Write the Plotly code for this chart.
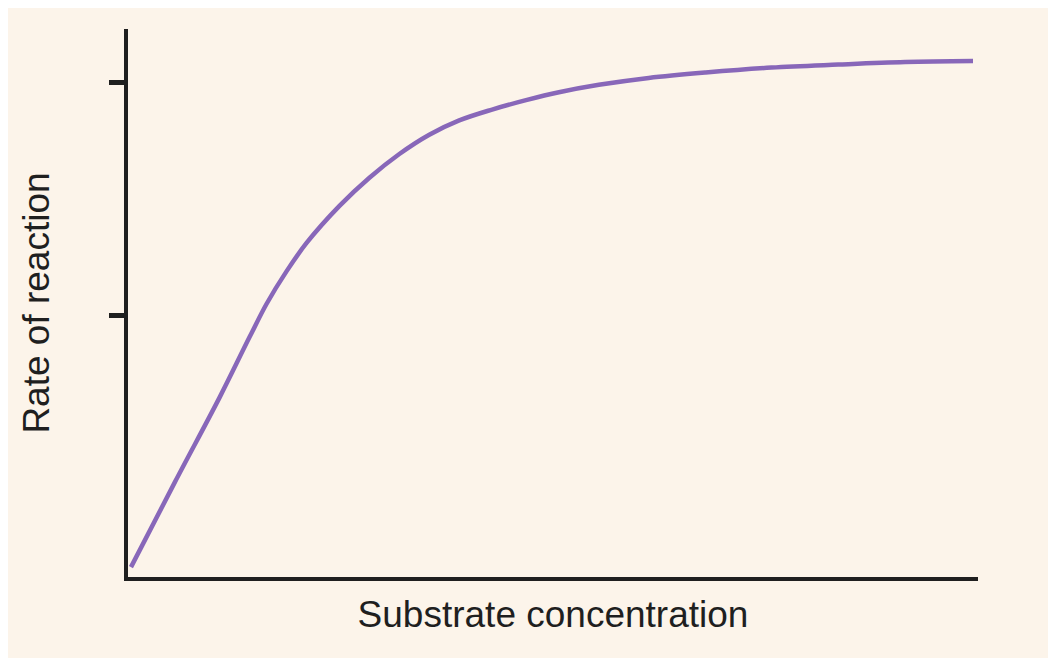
"""Enzyme kinetics: rate of reaction vs substrate concentration."""
import plotly.graph_objects as go

# curve (arbitrary units)
substrate = [0.35, 5.53, 10.82, 14.35, 16.35, 18.71, 21.06, 24.94, 28.47, 32.0,
             35.53, 39.06, 42.94, 46.94, 50.82, 55.53, 61.41, 68.12, 75.88,
             83.76, 91.65, 99.65]
rate = [0.020, 0.192, 0.364, 0.486, 0.553, 0.619, 0.676, 0.751, 0.808, 0.856,
        0.895, 0.924, 0.946, 0.965, 0.981, 0.996, 1.010, 1.021, 1.031,
        1.037, 1.042, 1.044]
y_ticks = [0.53, 1.0]

BG = "#fcf4ea"
INK = "#1f1f1f"
PURPLE = "#8867b9"

fig = go.Figure()
fig.add_trace(go.Scatter(
    x=substrate,
    y=rate,
    mode="lines",
    line=dict(color=PURPLE, width=4.5, shape="spline", smoothing=1.0),
    hoverinfo="skip",
    showlegend=False,
))

# page body keeps an 8px margin, so the figure is sized to fit inside it
fig.update_layout(
    width=1040,
    height=650,
    margin=dict(l=120, r=70, t=21, b=81),
    paper_bgcolor=BG,
    plot_bgcolor=BG,
    font=dict(family="Liberation Sans, Arial, sans-serif", size=31, color=INK),
    xaxis=dict(
        range=[0, 100.24],
        showline=True, linecolor=INK, linewidth=3.5,
        showgrid=False, zeroline=False,
        ticks="", showticklabels=False,
        title=dict(text="Substrate concentration", standoff=22),
        fixedrange=True,
    ),
    yaxis=dict(
        range=[0, 1.109],
        showline=True, linecolor=INK, linewidth=3.5,
        showgrid=False, zeroline=False,
        tickvals=y_ticks, ticks="outside", ticklen=15, tickwidth=5, tickcolor=INK,
        showticklabels=False,
        title=dict(text="Rate of reaction", standoff=49),
        fixedrange=True,
    ),
)

fig.write_html("out.html")
